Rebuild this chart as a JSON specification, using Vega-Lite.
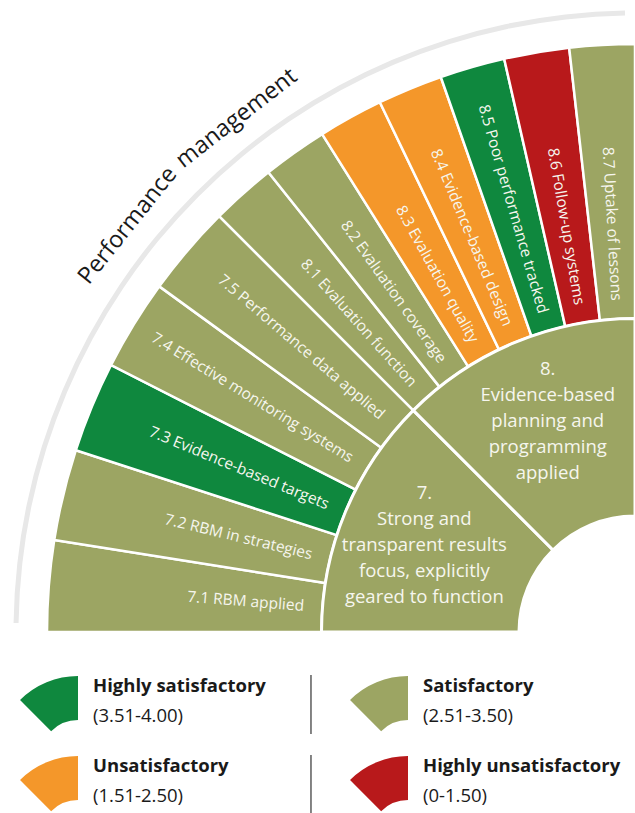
{
  "$schema": "https://vega.github.io/schema/vega-lite/v6.json",
  "padding": 0,
  "spacing": 0,
  "bounds": "flush",
  "config": {"view": {"stroke": null}, "font": "Open Sans"},
  "datasets": {
    "items": [
      {"item": "7.1", "label": "7.1 RBM applied", "rating": "Satisfactory", "span": 9},
      {"item": "7.2", "label": "7.2 RBM in strategies", "rating": "Satisfactory", "span": 9},
      {"item": "7.3", "label": "7.3 Evidence-based targets", "rating": "Highly satisfactory", "span": 9},
      {"item": "7.4", "label": "7.4 Effective monitoring systems", "rating": "Satisfactory", "span": 9},
      {"item": "7.5", "label": "7.5 Performance data applied", "rating": "Satisfactory", "span": 9},
      {"item": "8.1", "label": "8.1 Evaluation function", "rating": "Satisfactory", "span": 6.4286},
      {"item": "8.2", "label": "8.2 Evaluation coverage", "rating": "Satisfactory", "span": 6.4286},
      {"item": "8.3", "label": "8.3 Evaluation quality", "rating": "Unsatisfactory", "span": 6.4286},
      {"item": "8.4", "label": "8.4 Evidence-based design", "rating": "Unsatisfactory", "span": 6.4286},
      {"item": "8.5", "label": "8.5 Poor performance tracked", "rating": "Highly satisfactory", "span": 6.4286},
      {"item": "8.6", "label": "8.6 Follow-up systems", "rating": "Highly unsatisfactory", "span": 6.4286},
      {"item": "8.7", "label": "8.7 Uptake of lessons", "rating": "Satisfactory", "span": 6.4286}
    ],
    "groups": [
      {"group": "7", "lines": ["7.", "Strong and", "transparent results", "focus, explicitly", "geared to function"], "span": 45},
      {"group": "8", "lines": ["8.", "Evidence-based", "planning and", "programming", "applied"], "span": 45}
    ],
    "legend": [
      {"rating": "Highly satisfactory", "range": "(3.51-4.00)", "col": 0, "row": 0},
      {"rating": "Satisfactory", "range": "(2.51-3.50)", "col": 1, "row": 0},
      {"rating": "Unsatisfactory", "range": "(1.51-2.50)", "col": 0, "row": 1},
      {"rating": "Highly unsatisfactory", "range": "(0-1.50)", "col": 1, "row": 1}
    ]
  },
  "vconcat": [
    {
      "width": 635,
      "height": 632,
      "layer": [
        {
          "data": {"values": [{"name": "Performance management"}]},
          "mark": {"type": "arc", "x": "width", "y": "height", "theta": 4.727, "theta2": 6.267, "radius": 621.5, "radius2": 616.5, "color": "#e8e8e8"},
          "encoding": {}
        },
        {
          "data": {"values": [{"word": "Performance"}]},
          "mark": {"type": "text", "x": "width", "y": "height", "theta": 5.3878, "radius": 650, "angle": -51.3, "align": "center", "baseline": "middle", "fontSize": 23.5, "color": "#1a1a1a"},
          "encoding": {"text": {"field": "word"}}
        },
        {
          "data": {"values": [{"word": "management"}]},
          "mark": {"type": "text", "x": "width", "y": "height", "theta": 5.6234, "radius": 650, "angle": -37.8, "align": "center", "baseline": "middle", "fontSize": 23.5, "color": "#1a1a1a"},
          "encoding": {"text": {"field": "word"}}
        },
        {
          "data": {"name": "items"},
          "mark": {"type": "arc", "x": "width", "y": "height", "radius": 588, "radius2": 313.5, "stroke": "white", "strokeWidth": 2.5},
          "encoding": {
            "theta": {"field": "span", "type": "quantitative", "stack": true, "scale": {"domain": [0, 90], "range": [4.712389, 6.283185]}},
            "order": {"field": "item", "type": "ordinal"},
            "detail": {"field": "item"},
            "color": {"field": "rating", "type": "nominal", "legend": null, "scale": {"domain": ["Highly satisfactory", "Satisfactory", "Unsatisfactory", "Highly unsatisfactory"], "range": ["#0f883e", "#9ca563", "#f4972a", "#b8191b"]}}
          }
        },
        {
          "data": {"name": "items"},
          "mark": {"type": "text", "x": "width", "y": "height", "radius": 332, "align": "right", "baseline": "middle", "fontSize": 15.5, "color": "#f6f6ee", "angle": {"expr": "(datum.span_start + datum.span_end) / 2"}},
          "encoding": {
            "theta": {"field": "span", "type": "quantitative", "stack": true, "scale": {"domain": [0, 90], "range": [4.712389, 6.283185]}},
            "order": {"field": "item", "type": "ordinal"},
            "detail": {"field": "item"},
            "text": {"field": "label"}
          }
        },
        {
          "data": {"name": "groups"},
          "mark": {"type": "arc", "x": "width", "y": "height", "radius": 313.5, "radius2": 116, "stroke": "white", "strokeWidth": 3, "color": "#9ca563"},
          "encoding": {
            "theta": {"field": "span", "type": "quantitative", "stack": true, "scale": {"domain": [0, 90], "range": [4.712389, 6.283185]}},
            "order": {"field": "group", "type": "ordinal"},
            "detail": {"field": "group"}
          }
        },
        {
          "data": {"name": "groups"},
          "mark": {"type": "text", "x": "width", "y": "height", "radius": 228, "align": "center", "baseline": "middle", "dy": -52, "fontSize": 18.5, "lineHeight": 26, "color": "#f6f6ee"},
          "encoding": {
            "theta": {"field": "span", "type": "quantitative", "stack": true, "scale": {"domain": [0, 90], "range": [4.712389, 6.283185]}},
            "order": {"field": "group", "type": "ordinal"},
            "detail": {"field": "group"},
            "text": {"field": "lines"}
          }
        }
      ]
    },
    {
      "width": 635,
      "height": 181,
      "data": {"name": "legend"},
      "encoding": {
        "x": {"field": "col", "type": "quantitative", "axis": null, "scale": {"domain": [0, 1], "range": [78, 408], "nice": false, "zero": false}},
        "y": {"field": "row", "type": "quantitative", "axis": null, "scale": {"domain": [0, 1], "range": [126, 206], "nice": false, "zero": false}}
      },
      "layer": [
        {
          "mark": {"type": "arc", "theta": 5.497787, "theta2": 6.283185, "radius": 82, "radius2": 38},
          "encoding": {
            "color": {"field": "rating", "type": "nominal", "legend": null, "scale": {"domain": ["Highly satisfactory", "Satisfactory", "Unsatisfactory", "Highly unsatisfactory"], "range": ["#0f883e", "#9ca563", "#f4972a", "#b8191b"]}}
          }
        },
        {
          "mark": {"type": "text", "align": "left", "baseline": "alphabetic", "dx": 15, "dy": -66, "fontSize": 18.5, "fontWeight": "bold", "color": "#1a1a1a"},
          "encoding": {"text": {"field": "rating"}}
        },
        {
          "mark": {"type": "text", "align": "left", "baseline": "alphabetic", "dx": 15, "dy": -36, "fontSize": 18.5, "color": "#1a1a1a"},
          "encoding": {"text": {"field": "range"}}
        },
        {
          "transform": [{"filter": "datum.col == 0"}],
          "mark": {"type": "rule", "yOffset": -83, "y2Offset": -24, "color": "#333333", "strokeWidth": 1.2},
          "encoding": {
            "x": {"datum": 0.706},
            "y2": {"field": "row"}
          }
        }
      ]
    }
  ]
}
